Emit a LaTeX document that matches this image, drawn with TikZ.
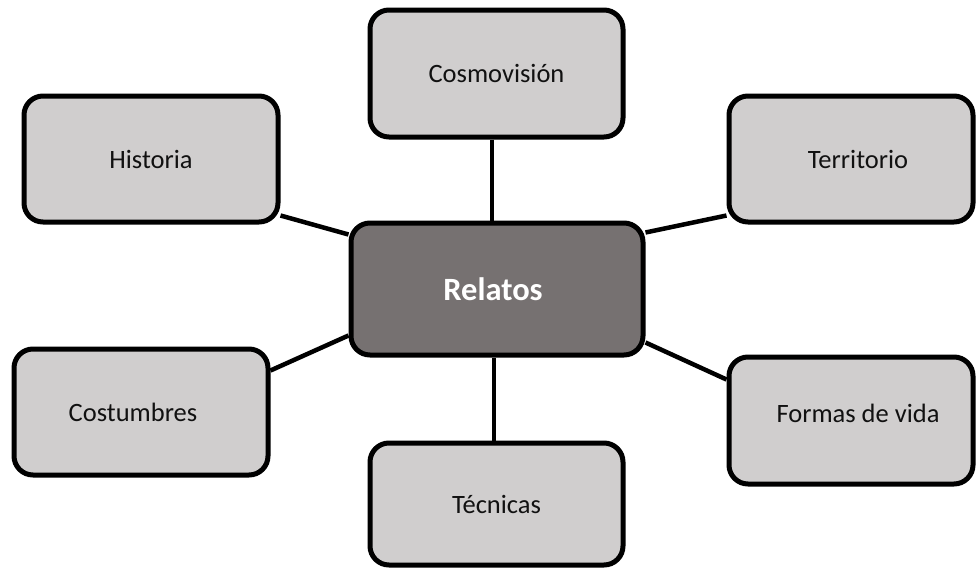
\documentclass[tikz,border=0pt]{standalone}
\usepackage{fontspec}
\setmainfont{Carlito}
\usetikzlibrary{backgrounds}
\definecolor{lightbox}{HTML}{D0CECE}
\definecolor{darkbox}{HTML}{767171}
\definecolor{txt}{HTML}{111111}
\begin{document}
\begin{tikzpicture}[x=1pt,y=-1pt,
  leaf/.style={draw=black, line width=5pt, fill=lightbox, rounded corners=19pt,
    text=txt, font=\fontsize{26.5}{30}\selectfont, inner sep=0pt},
  hub/.style={draw=black, line width=5pt, fill=darkbox, rounded corners=19pt,
    text=white, font=\fontsize{32.5}{36}\selectfont\bfseries, inner sep=0pt},
  link/.style={draw=black, line width=4.5pt}]
\useasboundingbox (0,0) rectangle (977,571);
\node[hub, minimum width=292pt, minimum height=132pt] (rel) at (497,289) {\hspace*{-8pt}Relatos};
\node[leaf, minimum width=253pt, minimum height=127pt] (cosmo) at (496.5,73.5) {Cosmovisión};
\node[leaf, minimum width=254pt, minimum height=126pt] (hist) at (151,159) {Historia};
\node[leaf, minimum width=244pt, minimum height=126pt] (terr) at (851,159) {\hspace*{14pt}Territorio};
\node[leaf, minimum width=254pt, minimum height=126pt] (cost) at (141,412) {Costumbres\hspace*{16pt}};
\node[leaf, minimum width=244pt, minimum height=127pt] (form) at (851,420.5) {\hspace*{14pt}Formas de vida\raisebox{0pt}[0pt][14pt]{}};
\node[leaf, minimum width=253pt, minimum height=122pt] (tec) at (496.5,504) {Técnicas};
\coordinate (c1) at ([xshift=-4.5pt]cosmo.south);
\coordinate (c2) at ([xshift=-2.5pt]tec.north);
\begin{scope}[on background layer]
\draw[link] (c1) -- (c1 |- rel.north);
\draw[link] (c2) -- (c2 |- rel.south);
\draw[link] ([yshift=9pt]hist.south east) -- ([yshift=-14pt]rel.north west);
\draw[link] ([yshift=-12pt]rel.north east) -- ([yshift=9pt]terr.south west);
\draw[link] ([yshift=-24pt]cost.north east) -- ([yshift=22pt]rel.south west);
\draw[link] ([yshift=15pt]rel.south east) -- ([yshift=-25pt]form.north west);
\end{scope}
\end{tikzpicture}
\end{document}
